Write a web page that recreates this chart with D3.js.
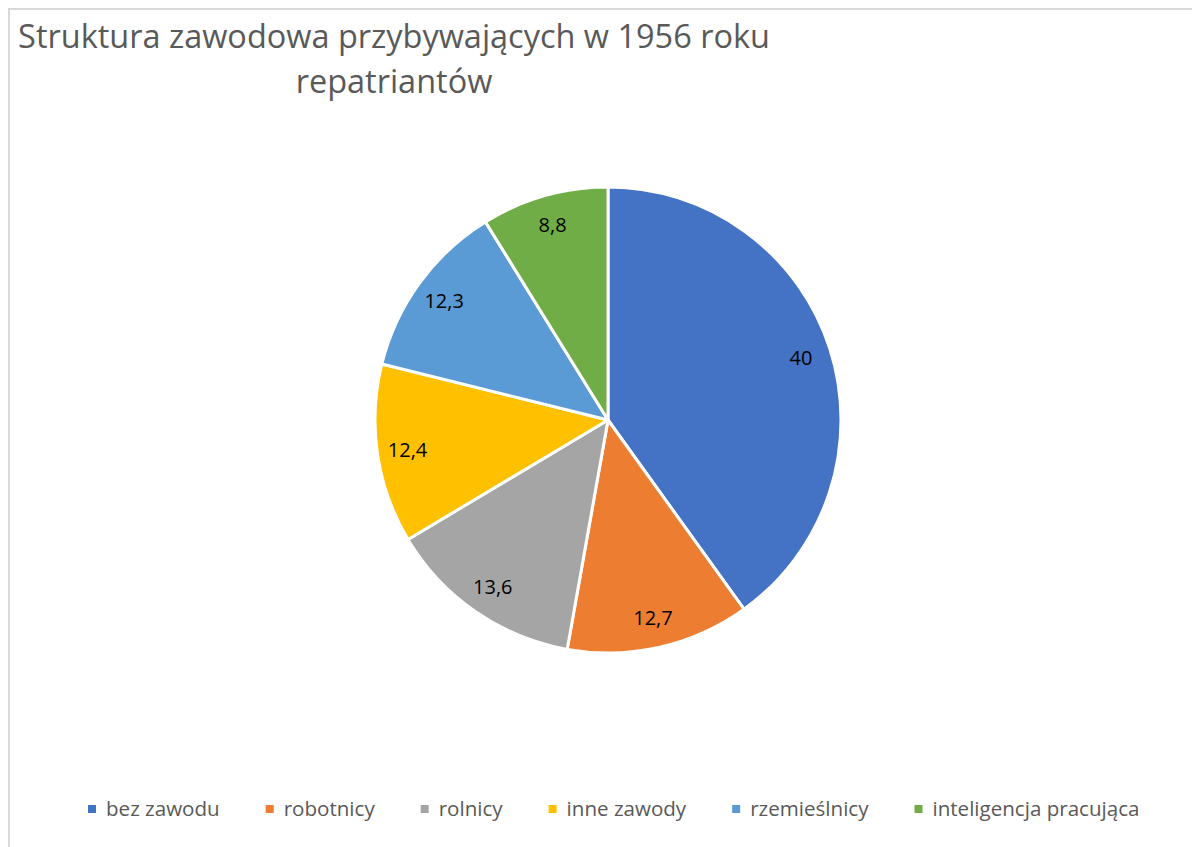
<!DOCTYPE html>
<html>
<head>
<meta charset="utf-8">
<script src="https://cdn.jsdelivr.net/npm/d3@7"></script>
<style>
  body { margin: 0; background: #fff; }
  svg { display: block; font-family: "Open Sans", sans-serif; }
</style>
</head>
<body>
<div id="chart"></div>
<script>
// data
var categories = ["bez zawodu", "robotnicy", "rolnicy", "inne zawody", "rzemieślnicy", "inteligencja pracująca"];
var values = [40, 12.7, 13.6, 12.4, 12.3, 8.8];
var labels = ["40", "12,7", "13,6", "12,4", "12,3", "8,8"];
var colors = ["#4472C4", "#ED7D31", "#A5A5A5", "#FFC000", "#5B9BD5", "#70AD47"];
var titleLines = ["Struktura zawodowa przybywających w 1956 roku", "repatriantów"];

var width = 1192, height = 847;
var cx = 608, cy = 420, r = 233;

var svg = d3.select("#chart").append("svg")
    .attr("width", width)
    .attr("height", height);

// frame (only top and left edge show)
svg.append("rect")
    .attr("x", 9).attr("y", 9)
    .attr("width", width + 20).attr("height", height + 20)
    .attr("fill", "#fff")
    .attr("stroke", "#d9d9d9")
    .attr("stroke-width", 2);

// title, sized so the first line spans ~752px
var title = svg.append("text")
    .attr("text-anchor", "middle")
    .attr("fill", "#595959")
    .attr("font-size", 30);
title.selectAll("tspan")
    .data(titleLines)
    .enter().append("tspan")
    .attr("x", 394)
    .attr("y", function (d, i) { return 48 + i * 45; })
    .text(function (d) { return d; });
var w0 = title.select("tspan").node().getComputedTextLength();
title.attr("font-size", 30 * 752 / w0);

// pie
var data = categories.map(function (c, i) {
    return { name: c, value: values[i], label: labels[i], color: colors[i] };
});
var pie = d3.pie().sort(null).value(function (d) { return d.value; });
var arc = d3.arc().innerRadius(0).outerRadius(r);
var labelArc = d3.arc().innerRadius(r * 0.87).outerRadius(r * 0.87);

var g = svg.append("g")
    .attr("transform", "translate(" + cx + "," + cy + ")");

g.selectAll("path")
    .data(pie(data))
    .enter().append("path")
    .attr("d", arc)
    .attr("fill", function (d) { return d.data.color; })
    .attr("stroke", "#fff")
    .attr("stroke-width", 3)
    .attr("stroke-linejoin", "round");

g.selectAll(".lbl")
    .data(pie(data))
    .enter().append("text")
    .attr("class", "lbl")
    .attr("transform", function (d) { return "translate(" + labelArc.centroid(d) + ")"; })
    .attr("text-anchor", "middle")
    .attr("dy", "0.35em")
    .attr("font-size", 20)
    .attr("fill", "#000")
    .text(function (d) { return d.data.label; });

// legend
var legend = svg.append("g");
var items = legend.selectAll("g")
    .data(data)
    .enter().append("g");
items.append("rect")
    .attr("width", 8).attr("height", 8)
    .attr("y", -4)
    .attr("fill", function (d) { return d.color; });
items.append("text")
    .attr("x", 18)
    .attr("dy", "0.35em")
    .attr("font-size", 18)
    .attr("fill", "#595959")
    .text(function (d) { return d.name; });

var textW = 0;
items.select("text").each(function () { textW += this.getComputedTextLength(); });
var fs = 18 * 714 / textW;
items.select("text").attr("font-size", fs);

var xPos = 88;
items.each(function () {
    d3.select(this).attr("transform", "translate(" + xPos + ",809)");
    xPos += 18 + d3.select(this).select("text").node().getComputedTextLength() + 46;
});
</script>
</body>
</html>
